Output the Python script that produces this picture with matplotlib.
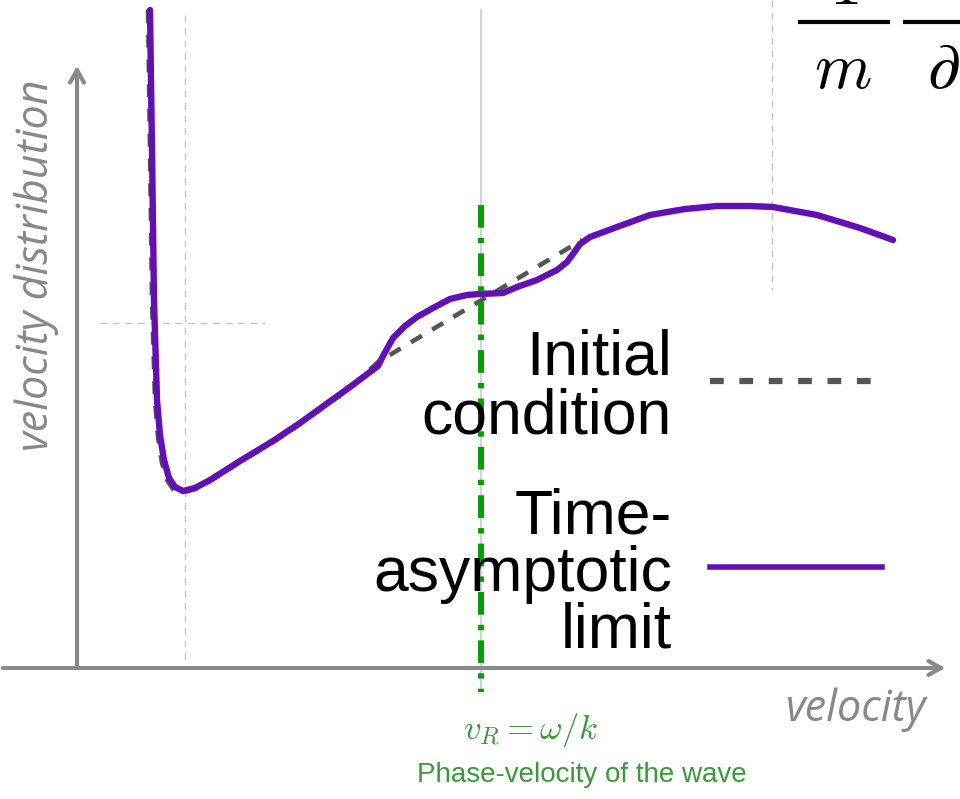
import matplotlib
matplotlib.use('Agg')
import matplotlib.pyplot as plt
import numpy as np

plt.rcParams['mathtext.fontset'] = 'cm'

# curve samples (pixel-like units, y grows downward)
limit_x = [150, 152, 154, 157, 160, 164, 169, 175, 183, 195, 210, 240, 273, 300, 350, 378,
           383, 393, 405, 417, 433, 450, 467, 480, 503, 517, 537, 557, 567, 573, 580, 590,
           617, 650, 685, 717, 750, 773, 817, 860, 893]
limit_y = [10, 150, 300, 400, 435, 460, 478, 487, 491, 488, 480, 461, 441, 423, 387, 366,
           356, 338, 326, 317, 308, 299, 295, 294, 293, 287, 280, 270, 262, 254, 244, 237,
           227, 215, 209, 206, 206, 207, 215, 228, 240]

init_x = [148, 150, 152, 155, 158, 162, 167, 173, 181, 195, 210, 240, 273, 300, 350, 378, 582]
init_y = [10, 150, 300, 400, 437, 463, 480, 489, 493, 489, 481, 462, 442, 424, 388, 362, 240]

v_phase = 481
legend_labels = ['Initial\ncondition', 'Time-\nasymptotic\nlimit']

purple = '#6210b4'
axis_gray = '#8a8a8a'
green = '#00a000'

fig = plt.figure(figsize=(9.6, 7.99), dpi=100)
ax = fig.add_axes([0, 0, 1, 1])
ax.set_xlim(0, 960)
ax.set_ylim(799, 0)
ax.axis('off')

# thin helper lines
guide = dict(color='#c4c4c4', lw=1, dashes=(5, 4))
ax.plot([185, 185], [15, 660], **guide)
ax.plot([v_phase, v_phase], [10, 690], color='#c8c8e0', lw=1.2)
ax.plot([772, 772], [0, 290], **guide)
ax.plot([100, 265], [323, 323], **guide)

# axes arrows
arrow = dict(arrowstyle='->,head_length=0.9,head_width=0.5', color=axis_gray, lw=3)
ax.annotate('', xy=(948, 668), xytext=(0, 668), arrowprops=arrow)
ax.annotate('', xy=(77, 63), xytext=(77, 668), arrowprops=arrow)

# curves
ax.plot(init_x, init_y, color='#555555', lw=3.3, dashes=(2.8, 2.6))
ax.plot(limit_x, limit_y, color=purple, lw=4.6, solid_capstyle='round', solid_joinstyle='round')

# phase velocity
ax.plot([v_phase, v_phase], [205, 692], color=green, lw=4.3, dashes=(3.8, 1.7, 0.9, 1.7))

# legend
ax.text(672, 433, legend_labels[0], ha='right', va='baseline', fontsize=45,
        family='Liberation Sans', linespacing=0.98, multialignment='right')
ax.plot([710, 882], [381, 381], color='#555555', lw=4.5, dashes=(2.2, 2.5))
ax.text(672, 648, legend_labels[1], ha='right', va='baseline', fontsize=45,
        family='Liberation Sans', linespacing=0.96, multialignment='right')
ax.plot([710, 882], [567, 567], color=purple, lw=4)

# axis labels
ax.text(37, 265, 'velocity distribution', rotation=90, ha='center', va='center',
        fontsize=31, style='italic', color='#888888', family='Open Sans')
ax.text(856, 710, 'velocity', ha='center', va='center',
        fontsize=31, style='italic', color='#888888', family='Open Sans')

ax.text(531, 730, r'$v_R = \omega/k$', ha='center', va='center', fontsize=25, color='#3a9a3a')
ax.text(582, 775, 'Phase-velocity of the wave', ha='center', va='center', fontsize=20,
        color='#3a9a3a', family='Liberation Sans')

# cropped formula in the corner: q/m * d/dv, only its lower part is in frame
ax.plot([800, 888], [22, 22], color='black', lw=3)
ax.plot([905, 960], [22, 22], color='black', lw=3)
ax.text(844, 4, r'$1$', ha='center', va='baseline', fontsize=47)
ax.text(843, 88, r'$m$', ha='center', va='baseline', fontsize=47)
ax.text(927, 88, r'$\partial$', ha='left', va='baseline', fontsize=47)

fig.savefig('out.png', dpi=100)
